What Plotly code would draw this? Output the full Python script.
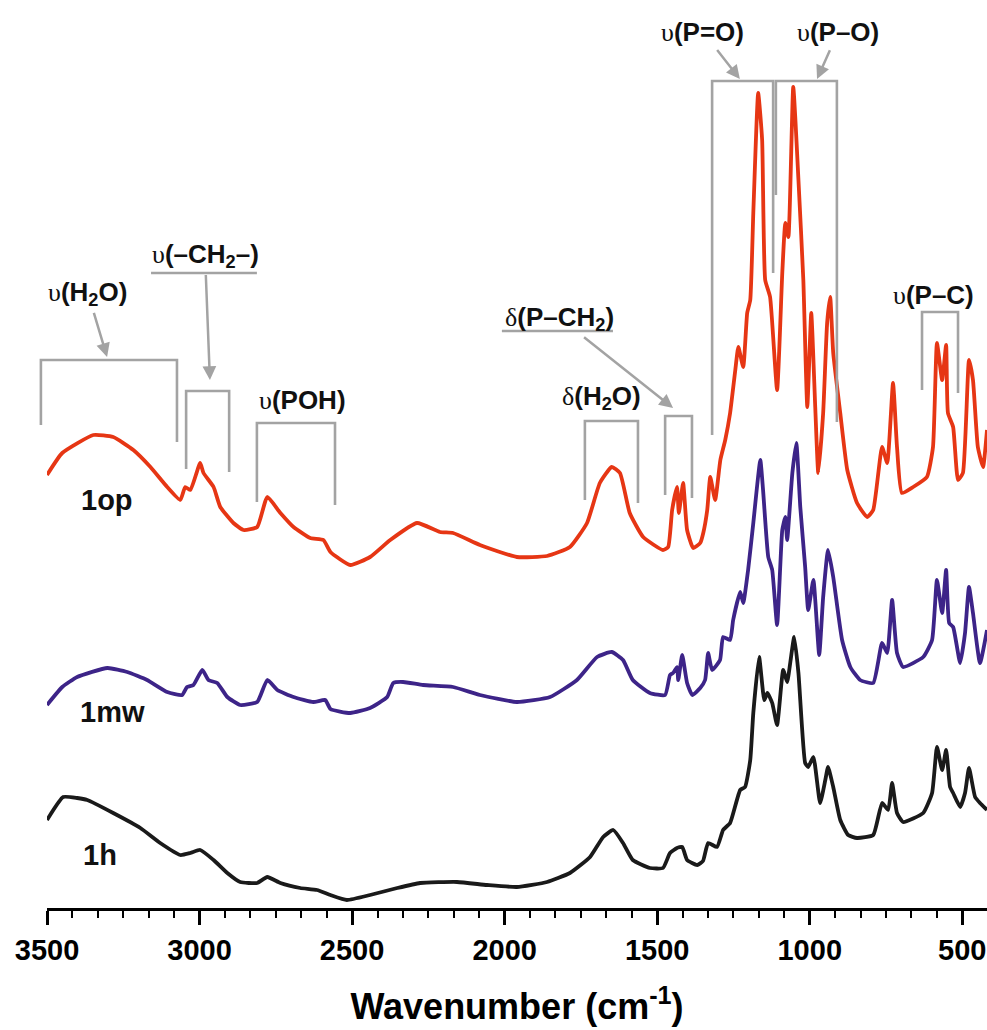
import plotly.graph_objects as go

# ---------------- data ----------------
wn_1op = [3500, 3450, 3348, 3283, 3217, 3161, 3106, 3063, 3047, 3030, 2998, 2987, 2954, 2932, 2889, 2856,
          2811, 2778, 2735, 2692, 2637, 2594, 2571, 2506, 2441, 2375, 2287, 2212, 2169, 2081, 1960, 1861,
          1786, 1730, 1688, 1649, 1622, 1590, 1546, 1481, 1464, 1451, 1435, 1429, 1415, 1402, 1382, 1359,
          1349, 1336, 1326, 1310, 1293, 1277, 1261, 1244, 1234, 1218, 1205, 1195, 1185, 1169, 1156, 1146,
          1130, 1107, 1090, 1080, 1070, 1054, 1037, 1021, 1008, 995, 982, 972, 956, 943, 933, 923, 900,
          877, 845, 812, 792, 763, 746, 727, 714, 698, 661, 616, 596, 583, 566, 553, 547, 530, 514, 498,
          478, 465, 449, 432, 419]
int_1op = [4.33, 4.55, 4.73, 4.71, 4.58, 4.41, 4.21, 4.08, 4.21, 4.18, 4.45, 4.35, 4.21, 4.01, 3.85, 3.78,
           3.81, 4.11, 3.95, 3.81, 3.70, 3.68, 3.56, 3.43, 3.51, 3.68, 3.85, 3.76, 3.75, 3.63, 3.51, 3.52,
           3.61, 3.85, 4.25, 4.41, 4.35, 3.95, 3.71, 3.58, 3.61, 3.98, 4.21, 3.95, 4.25, 3.78, 3.60, 3.65,
           3.75, 3.98, 4.31, 4.08, 4.48, 4.68, 4.95, 5.38, 5.61, 5.41, 5.95, 6.08, 6.95, 8.15, 7.68, 6.28,
           6.11, 5.18, 6.35, 6.85, 6.71, 8.21, 7.28, 6.28, 5.01, 5.95, 5.01, 4.35, 4.95, 5.85, 6.11, 5.55, 4.95,
           4.38, 4.05, 3.91, 3.98, 4.61, 4.45, 5.25, 4.61, 4.15, 4.21, 4.31, 4.61, 5.65, 5.28, 5.63, 4.95, 4.81, 4.28, 4.35,
           5.48, 5.28, 4.61, 4.41, 4.78]

wn_1mw = [3500, 3450, 3401, 3302, 3237, 3172, 3106, 3057, 3041, 3020, 2991, 2971, 2942, 2909, 2867, 2811,
          2778, 2745, 2692, 2627, 2588, 2571, 2506, 2441, 2385, 2365, 2333, 2267, 2169, 2081, 1960, 1851,
          1763, 1697, 1649, 1612, 1580, 1524, 1474, 1458, 1448, 1435, 1431, 1418, 1402, 1385, 1359, 1343,
          1333, 1320, 1294, 1284, 1261, 1251, 1228, 1218, 1202, 1185, 1162, 1153, 1136, 1123, 1107, 1090,
          1080, 1074, 1057, 1044, 1031, 1015, 1005, 988, 969, 956, 940, 923, 894, 867, 835, 792, 763, 746,
          730, 714, 694, 628, 599, 583, 566, 553, 543, 530, 507, 491, 478, 465, 442, 419]
int_1mw = [2.03, 2.21, 2.31, 2.40, 2.36, 2.28, 2.16, 2.13, 2.21, 2.23, 2.38, 2.28, 2.25, 2.11, 2.03, 2.06,
           2.28, 2.18, 2.11, 2.06, 2.08, 1.99, 1.95, 2.00, 2.11, 2.25, 2.26, 2.23, 2.21, 2.13, 2.06, 2.11,
           2.28, 2.51, 2.56, 2.48, 2.28, 2.15, 2.13, 2.33, 2.35, 2.41, 2.28, 2.53, 2.25, 2.13, 2.20, 2.28,
           2.55, 2.38, 2.48, 2.71, 2.68, 2.88, 3.16, 3.05, 3.38, 3.85, 4.48, 4.18, 3.51, 3.38, 2.83, 3.78,
           3.91, 3.68, 4.35, 4.65, 4.01, 3.41, 2.98, 3.28, 2.53, 3.11, 3.58, 3.31, 2.68, 2.41, 2.28, 2.25, 2.65, 2.55,
           3.08, 2.55, 2.41, 2.51, 2.68, 3.28, 2.95, 3.38, 2.85, 2.81, 2.45, 2.75, 3.21, 2.95, 2.45, 2.78]

wn_1h = [3500, 3447, 3401, 3368, 3283, 3194, 3129, 3063, 3030, 2998, 2954, 2909, 2867, 2811, 2778, 2735,
         2670, 2615, 2571, 2517, 2441, 2352, 2277, 2156, 2058, 1960, 1861, 1786, 1720, 1677, 1644, 1612,
         1580, 1524, 1481, 1458, 1435, 1418, 1402, 1369, 1350, 1333, 1304, 1284, 1261, 1228, 1212, 1195,
         1185, 1166, 1149, 1139, 1123, 1107, 1087, 1074, 1064, 1051, 1037, 1015, 1005, 988, 966, 949, 940,
         923, 900, 874, 845, 792, 763, 743, 730, 714, 694, 628, 599, 583, 566, 553, 540, 530, 507, 491,
         478, 458, 442, 419]
int_1h = [0.88, 1.11, 1.10, 1.08, 0.95, 0.80, 0.65, 0.53, 0.55, 0.58, 0.48, 0.35, 0.26, 0.25, 0.31, 0.25,
          0.20, 0.18, 0.13, 0.08, 0.13, 0.20, 0.25, 0.26, 0.23, 0.21, 0.26, 0.35, 0.51, 0.71, 0.78, 0.65,
          0.48, 0.40, 0.40, 0.55, 0.60, 0.61, 0.48, 0.43, 0.47, 0.65, 0.61, 0.78, 0.85, 1.18, 1.21, 1.48,
          1.95, 2.51, 2.08, 2.15, 2.05, 1.83, 2.38, 2.26, 2.45, 2.71, 2.35, 1.45, 1.41, 1.51, 1.05, 1.28, 1.41,
          1.21, 0.88, 0.73, 0.70, 0.73, 1.05, 0.98, 1.25, 0.95, 0.86, 0.95, 1.15, 1.61, 1.38, 1.58, 1.21, 1.15, 1.01, 1.15,
          1.40, 1.11, 1.05, 0.98]

series_names = ["1op", "1mw", "1h"]
series_colors = ["#E63614", "#3D2488", "#1A1A1A"]
tick_vals = [3500, 3000, 2500, 2000, 1500, 1000, 500]
tick_text = ["3500", "3000", "2500", "2000", "1500", "1000", "500"]

X0, X1 = 3500, 419
Y0, Y1 = 0, 9.08
GRAY = "#A3A3A3"
FONT = "Liberation Sans, Arial, sans-serif"

fig = go.Figure()
for wn, it, name, col in zip([wn_1op, wn_1mw, wn_1h], [int_1op, int_1mw, int_1h], series_names, series_colors):
    fig.add_trace(go.Scatter(x=wn, y=it, mode="lines", name=name,
                             line=dict(color=col, width=3.8, shape="spline", smoothing=0.45),
                             showlegend=False))


def xd(w):
    return (X0 - w) / (X0 - X1)


shapes = []


def bracket(wl, wr, top, bl, br):
    path = "M {:.5f},{} L {:.5f},{} L {:.5f},{} L {:.5f},{}".format(xd(wl), bl, xd(wl), top, xd(wr), top, xd(wr), br)
    shapes.append(dict(type="path", path=path, xref="x domain", yref="y",
                       line=dict(color=GRAY, width=2.6)))


def hline(wl, wr, y):
    shapes.append(dict(type="line", x0=xd(wl), x1=xd(wr), y0=y, y1=y, xref="x domain", yref="y",
                       line=dict(color=GRAY, width=2.6)))


bracket(3520, 3074, 5.48, 4.83, 4.66)       # v(H2O)
bracket(3044, 2903, 5.17, 4.39, 4.36)       # v(CH2)
bracket(2812, 2556, 4.85, 4.06, 4.03)       # v(POH)
bracket(1737, 1563, 4.87, 4.08, 4.05)       # d(H2O)
bracket(1474, 1386, 4.92, 4.13, 4.10)       # d(P-CH2)
bracket(1320, 1120, 8.27, 4.73, 6.35)       # v(P=O)
bracket(1111, 911, 8.27, 7.13, 4.86)        # v(P-O)
bracket(632, 514, 5.96, 5.18, 5.15)         # v(P-C)
hline(3159, 2812, 6.35)
hline(2009, 1645, 5.77)

U = '<span style="font-family:\'Liberation Serif\', serif; font-weight:normal">υ</span>'
D = '<span style="font-family:\'Liberation Serif\', serif; font-weight:normal">δ</span>'

# label position, label text, arrow head (None = no arrow)
labels = [
    (3366, 6.15, U + "<b>(H<sub>2</sub>O)</b>", (3303, 5.51)),
    (2982, 6.53, U + "<b>(–CH<sub>2</sub>–)</b>", (2966, 5.28)),
    (2664, 5.08, U + "<b>(POH)</b>", None),
    (1819, 5.90, D + "<b>(P–CH<sub>2</sub>)</b>", (1448, 5.00)),
    (1681, 5.11, D + "<b>(H<sub>2</sub>O)</b>", None),
    (1350, 8.76, U + "<b>(P=O)</b>", (1229, 8.29)),
    (907, 8.76, U + "<b>(P–O)</b>", (976, 8.29)),
    (596, 6.13, U + "<b>(P–C)</b>", None),
]
annotations = []
for x, y, t, head in labels:
    f = dict(family=FONT, size=26, color="#111111")
    if head is None:
        annotations.append(dict(x=x, y=y, xref="x", yref="y", text=t, showarrow=False, font=f))
    else:
        annotations.append(dict(x=head[0], y=head[1], ax=x, ay=y, xref="x", yref="y", axref="x", ayref="y",
                                text=t, font=f, showarrow=True, arrowhead=2, arrowsize=1.1,
                                arrowwidth=2.5, arrowcolor=GRAY, standoff=0, startstandoff=2))

sample_pos = [(3303, 4.08), (3284, 1.96), (3326, 0.53)]
for (x, y), name in zip(sample_pos, series_names):
    annotations.append(dict(x=x, y=y, xref="x", yref="y", text="<b>" + name + "</b>", showarrow=False,
                            font=dict(family=FONT, size=29, color="#111111")))

fig.update_layout(
    width=987, height=1030,
    margin=dict(l=47, r=0, t=0, b=122),
    paper_bgcolor="white", plot_bgcolor="white",
    shapes=shapes, annotations=annotations,
    xaxis=dict(range=[X0, X1], tickvals=tick_vals, ticktext=tick_text,
               showline=True, linecolor="black", linewidth=2.5,
               ticks="outside", ticklen=14, tickwidth=2.5, tickcolor="black",
               minor=dict(dtick=500 / 6, tick0=0, ticks="outside", ticklen=7, tickwidth=2, tickcolor="black"),
               showgrid=False, zeroline=False,
               tickfont=dict(family=FONT, size=29, color="black", weight="bold"),
               title=dict(text="<b>Wavenumber (cm<sup>-1</sup>)</b>", standoff=30,
                          font=dict(family=FONT, size=36, color="black"))),
    yaxis=dict(range=[Y0, Y1], visible=False),
)

fig.write_html("out.html")
